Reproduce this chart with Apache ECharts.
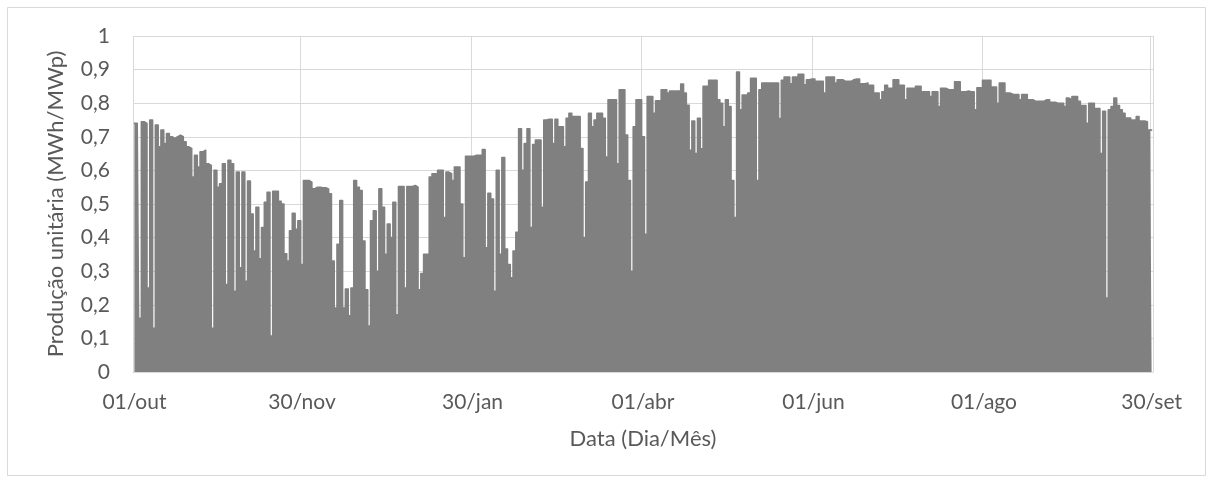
<!DOCTYPE html>
<html>
<head>
<meta charset="utf-8">
<title>Produção unitária diária</title>
<script src="https://cdn.jsdelivr.net/npm/echarts@6/dist/echarts.min.js"></script>
<style>
  html, body { margin: 0; padding: 0; background: #ffffff; }
  #chart { width: 1213px; height: 484px; }
</style>
</head>
<body>
<div id="chart"></div>
<script>
// Daily peak unit production (MWh/MWp), 01/out to 30/set
const productionOct = [0.74,0.74,0.16,0.745,0.74,0.25,0.75,0.13,0.735,0.67,0.72,0.68,0.71,0.70,0.695,0.70,0.705,0.70,0.685,0.67,0.665,0.58,0.645,0.61,0.655,0.66,0.62,0.615,0.13,0.60,0.55];
const productionNov = [0.56,0.62,0.26,0.63,0.62,0.24,0.595,0.31,0.595,0.27,0.568,0.47,0.36,0.49,0.337,0.43,0.505,0.535,0.107,0.538,0.538,0.508,0.50,0.352,0.33,0.42,0.472,0.425,0.45,0.32];
const productionDec = [0.57,0.57,0.565,0.545,0.55,0.55,0.548,0.548,0.545,0.53,0.33,0.19,0.38,0.51,0.19,0.247,0.167,0.25,0.57,0.55,0.54,0.39,0.245,0.137,0.45,0.48,0.30,0.545,0.49,0.35,0.44];
const productionJan = [0.40,0.505,0.17,0.552,0.552,0.25,0.552,0.552,0.555,0.55,0.245,0.293,0.35,0.35,0.58,0.59,0.59,0.60,0.60,0.46,0.595,0.59,0.57,0.61,0.61,0.50,0.34,0.642,0.642,0.642,0.645];
const productionFeb = [0.645,0.645,0.662,0.37,0.532,0.515,0.24,0.60,0.35,0.638,0.366,0.32,0.28,0.36,0.416,0.724,0.60,0.68,0.724,0.43,0.677,0.69,0.69,0.49,0.75,0.752,0.752,0.68];
const productionMar = [0.752,0.73,0.73,0.67,0.755,0.77,0.76,0.76,0.76,0.665,0.40,0.565,0.77,0.73,0.75,0.77,0.77,0.755,0.64,0.81,0.81,0.81,0.62,0.84,0.84,0.705,0.57,0.30,0.73,0.81,0.81];
const productionApr = [0.70,0.41,0.82,0.82,0.77,0.807,0.807,0.84,0.84,0.83,0.836,0.836,0.836,0.836,0.857,0.83,0.794,0.66,0.747,0.65,0.755,0.664,0.85,0.85,0.868,0.868,0.868,0.81,0.80,0.73];
const productionMay = [0.81,0.79,0.57,0.46,0.893,0.78,0.824,0.824,0.83,0.874,0.874,0.57,0.84,0.86,0.86,0.86,0.86,0.86,0.86,0.754,0.868,0.878,0.878,0.858,0.878,0.878,0.886,0.886,0.855,0.87,0.872];
const productionJun = [0.872,0.865,0.865,0.865,0.83,0.878,0.878,0.878,0.86,0.87,0.87,0.865,0.865,0.865,0.87,0.872,0.872,0.858,0.858,0.86,0.853,0.853,0.83,0.83,0.81,0.834,0.853,0.844,0.844,0.87];
const productionJul = [0.87,0.853,0.853,0.81,0.844,0.844,0.844,0.85,0.85,0.834,0.834,0.834,0.82,0.834,0.834,0.79,0.844,0.844,0.84,0.84,0.84,0.864,0.864,0.834,0.834,0.836,0.834,0.834,0.78,0.846,0.846];
const productionAug = [0.868,0.868,0.868,0.848,0.848,0.80,0.86,0.86,0.83,0.83,0.826,0.826,0.826,0.81,0.826,0.826,0.81,0.81,0.806,0.806,0.806,0.806,0.81,0.81,0.803,0.803,0.80,0.80,0.80,0.79,0.815];
const productionSep = [0.81,0.82,0.82,0.806,0.793,0.793,0.74,0.80,0.80,0.784,0.784,0.65,0.776,0.22,0.78,0.79,0.815,0.793,0.78,0.77,0.756,0.756,0.75,0.75,0.76,0.747,0.747,0.745,0.72,0.72];

// Axis labels shown on the day axis and the day index where each sits
const tickLabels = ['01/out', '30/nov', '30/jan', '01/abr', '01/jun', '01/ago', '30/set'];
const tickDays = [0, 60, 121, 182, 243, 304, 364];

const monthNames = ['jan','fev','mar','abr','mai','jun','jul','ago','set','out','nov','dez'];

const production = [].concat(productionOct, productionNov, productionDec, productionJan,
  productionFeb, productionMar, productionApr, productionMay, productionJun,
  productionJul, productionAug, productionSep);

// One category per day, dd/mmm
const days = [];
const start = new Date(Date.UTC(2018, 9, 1));
for (let i = 0; i < production.length; i++) {
  const d = new Date(start.getTime() + i * 86400000);
  days.push(String(d.getUTCDate()).padStart(2, '0') + '/' + monthNames[d.getUTCMonth()]);
}

const showTick = (idx) => tickDays.indexOf(idx) !== -1;

const chart = echarts.init(document.getElementById('chart'));
const textColor = '#595959';
const font = 'Lato, "Open Sans", sans-serif';
const gray = '#808080';

chart.setOption({
  animation: false,
  backgroundColor: '#ffffff',
  textStyle: { fontFamily: font },
  graphic: [{
    type: 'rect',
    shape: { x: 7.5, y: 7.5, width: 1198, height: 468 },
    style: { fill: 'none', stroke: '#d9d9d9', lineWidth: 1 },
    silent: true
  }],
  grid: { left: 133, right: 60, top: 36, bottom: 112, containLabel: false },
  xAxis: {
    type: 'category',
    data: days,
    boundaryGap: true,
    name: 'Data (Dia/Mês)',
    nameLocation: 'middle',
    nameGap: 56,
    nameTextStyle: { color: textColor, fontSize: 22, fontFamily: font },
    axisLine: { show: true, lineStyle: { color: '#d9d9d9' } },
    axisTick: { show: false },
    axisLabel: {
      interval: (idx) => showTick(idx),
      formatter: (val, idx) => tickLabels[tickDays.indexOf(idx)] || '',
      color: textColor,
      fontSize: 21,
      margin: 20,
      fontFamily: font
    },
    splitLine: {
      show: true,
      interval: (idx) => showTick(idx),
      lineStyle: { color: '#d9d9d9', width: 1 }
    }
  },
  yAxis: {
    type: 'value',
    min: 0,
    max: 1,
    interval: 0.1,
    name: 'Produção unitária (MWh/MWp)',
    nameLocation: 'middle',
    nameGap: 66,
    nameTextStyle: { color: textColor, fontSize: 22, fontFamily: font },
    axisLine: { show: false },
    axisTick: { show: false },
    axisLabel: {
      color: textColor,
      fontSize: 21,
      margin: 23,
      fontFamily: font,
      formatter: (v) => {
        const r = Math.round(v * 10) / 10;
        if (r === 0) return '0';
        if (r === 1) return '1';
        return r.toFixed(1).replace('.', ',');
      }
    },
    splitLine: { show: true, lineStyle: { color: '#d9d9d9', width: 1 } }
  },
  series: [{
    type: 'line',
    data: production,
    step: 'middle',
    showSymbol: false,
    symbol: 'none',
    sampling: 'none',
    lineStyle: { color: gray, width: 1.6, join: 'round', cap: 'round' },
    areaStyle: { color: gray, opacity: 1 },
    emphasis: { disabled: true }
  }]
});
</script>
</body>
</html>
